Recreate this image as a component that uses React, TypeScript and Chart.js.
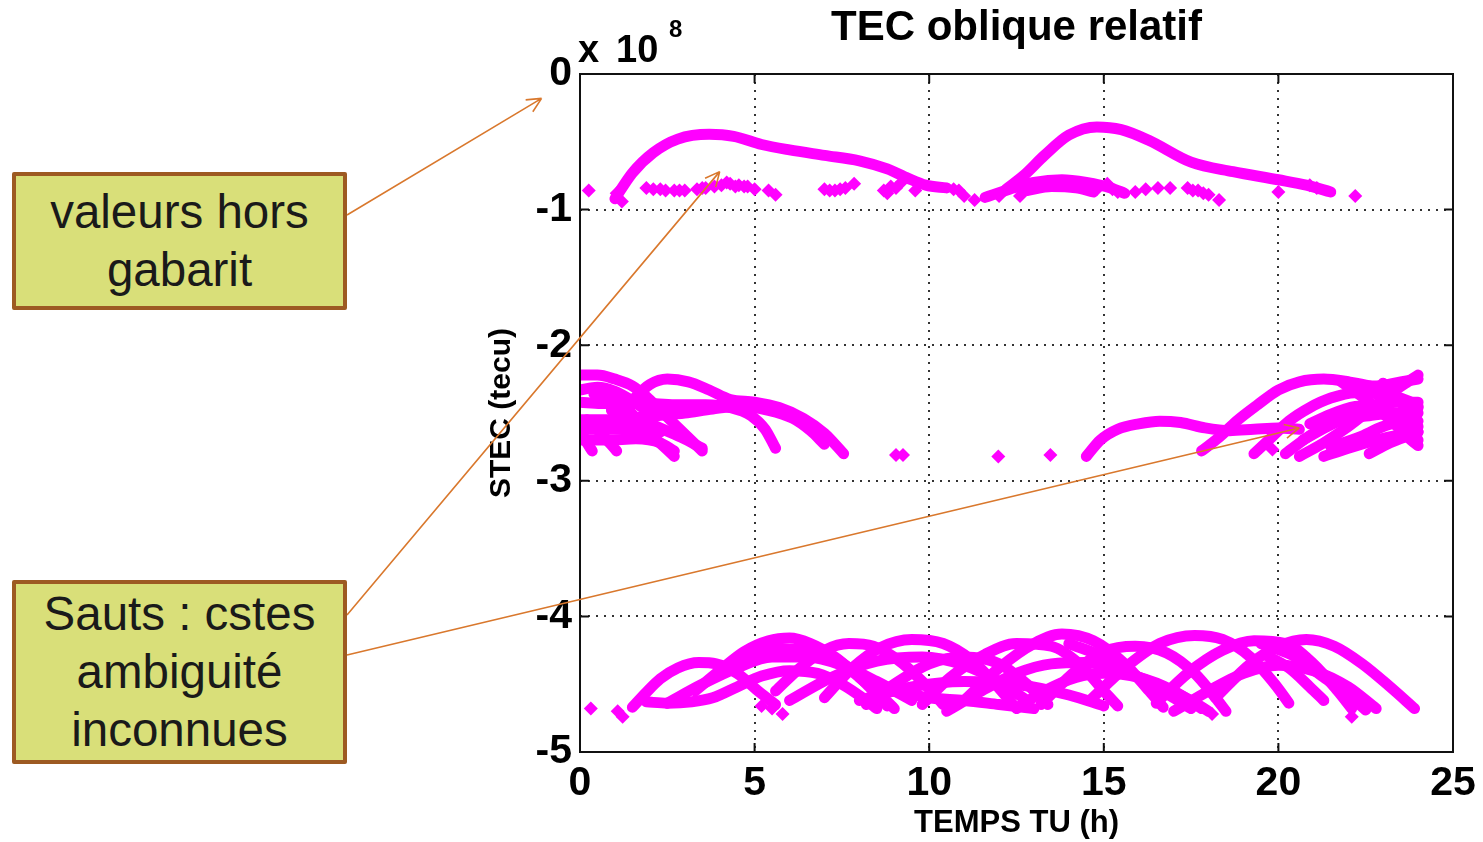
import { useEffect, useRef } from "react";
import { Chart, registerables } from "chart.js";

Chart.register(...registerables);

type P = [number, number];

// Axis ticks (STEC in units of 1e8 tecu, time in hours)
const X_TICKS = [0, 5, 10, 15, 20, 25];
const Y_TICKS = [0, -1, -2, -3, -4, -5];

const TITLE = "TEC oblique relatif";
const X_TITLE = "TEMPS TU (h)";
const Y_TITLE = "STEC (tecu)";
const BOX1 = ["valeurs hors", "gabarit"];
const BOX2 = ["Sauts : cstes", "ambiguité", "inconnues"];

// ---- top band (values "hors gabarit") ----
const TOP_ARC_1: P[] = [[1.0, -0.92], [1.5, -0.73], [2.1, -0.58], [2.8, -0.48], [3.7, -0.445], [4.4, -0.46], [5.2, -0.52], [6.0, -0.56], [7.0, -0.6], [8.0, -0.64], [8.8, -0.7], [9.4, -0.77], [9.9, -0.82], [10.5, -0.84]];
const TOP_ARC_2: P[] = [[12.2, -0.85], [12.7, -0.75], [13.3, -0.6], [14.0, -0.45], [14.8, -0.39], [15.5, -0.41], [16.3, -0.49], [17.5, -0.65], [18.7, -0.72], [20.0, -0.78], [20.8, -0.82], [21.5, -0.87]];
const TOP_ARC_3: P[] = [[11.6, -0.91], [12.3, -0.85], [13.0, -0.8], [13.8, -0.78], [14.5, -0.8], [15.2, -0.84], [15.6, -0.88]];
const TOP_ARC_4: P[] = [[12.8, -0.86], [13.5, -0.83], [14.2, -0.84], [14.7, -0.87]];
const TOP_DOTS: P[] = [[0.25, -0.86], [1.05, -0.88], [1.2, -0.94], [1.9, -0.84], [2.1, -0.85], [2.3, -0.85], [2.45, -0.86], [2.7, -0.86], [2.85, -0.86], [3.0, -0.86], [3.35, -0.85], [3.5, -0.84], [3.6, -0.84], [3.85, -0.83], [4.05, -0.82], [4.2, -0.8], [4.3, -0.81], [4.45, -0.83], [4.55, -0.82], [4.7, -0.83], [4.8, -0.83], [5.0, -0.85], [5.4, -0.86], [5.6, -0.89], [7.0, -0.85], [7.15, -0.86], [7.3, -0.86], [7.45, -0.85], [7.6, -0.84], [7.85, -0.81], [8.7, -0.86], [8.8, -0.88], [8.9, -0.83], [9.05, -0.84], [9.2, -0.8], [9.6, -0.86], [10.7, -0.85], [10.85, -0.86], [11.0, -0.9], [11.3, -0.93], [12.0, -0.9], [12.6, -0.9], [14.8, -0.85], [15.1, -0.81], [15.25, -0.85], [15.4, -0.87], [15.9, -0.87], [16.2, -0.85], [16.55, -0.84], [16.9, -0.84], [17.4, -0.84], [17.55, -0.86], [17.7, -0.86], [17.85, -0.88], [18.0, -0.89], [18.3, -0.93], [20.0, -0.87], [20.9, -0.82], [21.1, -0.84], [22.2, -0.9]];

// ---- middle band, left ----
const MID_L_1: P[] = [[0, -2.22], [0.5, -2.22], [1.0, -2.25], [1.5, -2.3], [1.9, -2.38], [2.3, -2.48], [2.7, -2.58], [3.1, -2.68], [3.5, -2.78]];
const MID_L_2: P[] = [[1.2, -2.5], [1.6, -2.38], [2.0, -2.29], [2.5, -2.25], [3.1, -2.27], [3.7, -2.33], [4.3, -2.4], [5.0, -2.42], [5.7, -2.46], [6.4, -2.54], [7.0, -2.65], [7.55, -2.8]];
const MID_L_3: P[] = [[0, -2.42], [0.6, -2.43], [1.3, -2.43], [2.0, -2.43], [2.8, -2.44], [3.6, -2.44], [4.3, -2.46], [4.9, -2.52], [5.3, -2.62], [5.6, -2.76]];
const MID_L_4: P[] = [[0, -2.55], [0.7, -2.55], [1.4, -2.54], [2.2, -2.52], [3.0, -2.5], [3.8, -2.47], [4.6, -2.45], [5.4, -2.48], [6.1, -2.54], [6.6, -2.63], [7.0, -2.73]];
const MID_L_5: P[] = [[0, -2.62], [0.2, -2.72], [0.35, -2.78]];
const MID_L_6: P[] = [[0.2, -2.55], [0.6, -2.65], [1.05, -2.78]];
const MID_L_7: P[] = [[0.9, -2.48], [1.5, -2.58], [2.1, -2.68], [2.7, -2.82]];
const MID_L_8: P[] = [[1.5, -2.52], [2.2, -2.6], [2.9, -2.68], [3.5, -2.76]];
const MID_L_9: P[] = [[0, -2.7], [0.8, -2.7], [1.6, -2.69], [2.3, -2.72], [2.7, -2.78]];
const MID_L_10: P[] = [[0, -2.33], [0.5, -2.31], [1.0, -2.34], [1.5, -2.41], [2.0, -2.5]];
const MID_L_11: P[] = [[0.4, -2.36], [0.9, -2.4], [1.3, -2.46], [1.7, -2.56], [2.0, -2.62]];
const MID_L_12: P[] = [[0, -2.62], [0.6, -2.62], [1.2, -2.62], [1.8, -2.62], [2.3, -2.64]];

// ---- middle band, right ----
const MID_R_1: P[] = [[14.5, -2.82], [14.9, -2.7], [15.4, -2.62], [16.0, -2.58], [16.6, -2.56], [17.2, -2.57], [17.9, -2.61], [18.6, -2.63], [19.3, -2.62], [20.0, -2.61], [20.6, -2.62]];
const MID_R_2: P[] = [[17.8, -2.78], [18.3, -2.68], [18.8, -2.56], [19.4, -2.44], [20.0, -2.33], [20.6, -2.27], [21.3, -2.25], [22.0, -2.27], [22.6, -2.3], [23.2, -2.36], [23.8, -2.42], [24.0, -2.45]];
const MID_R_3: P[] = [[19.3, -2.8], [19.8, -2.68], [20.3, -2.56], [20.9, -2.46], [21.5, -2.39], [22.2, -2.35], [22.9, -2.36], [23.5, -2.4], [24.0, -2.46]];
const MID_R_4: P[] = [[20.6, -2.82], [21.3, -2.72], [22.0, -2.6], [22.7, -2.46], [23.3, -2.34], [23.7, -2.27], [24.0, -2.22]];
const MID_R_5: P[] = [[20.7, -2.7], [21.4, -2.6], [22.1, -2.52], [22.8, -2.45], [23.4, -2.42], [24.0, -2.42]];
const MID_R_6: P[] = [[21.3, -2.82], [22.0, -2.76], [22.8, -2.7], [23.5, -2.66], [24.0, -2.64]];
const MID_R_7: P[] = [[21.8, -2.27], [22.5, -2.4], [23.2, -2.55], [23.8, -2.7], [24.0, -2.74]];
const MID_R_8: P[] = [[20.9, -2.58], [21.6, -2.5], [22.3, -2.45], [23.0, -2.48], [23.6, -2.55], [24.0, -2.6]];
const MID_R_9: P[] = [[22.6, -2.8], [23.2, -2.72], [23.8, -2.66], [24.0, -2.64]];
const MID_R_10: P[] = [[20.2, -2.8], [21.0, -2.65], [21.8, -2.55], [22.6, -2.52], [23.4, -2.5], [24.0, -2.5]];
const MID_R_11: P[] = [[22.0, -2.3], [22.8, -2.3], [23.5, -2.27], [24.0, -2.25]];
const MID_R_12: P[] = [[23.0, -2.28], [23.5, -2.42], [24.0, -2.56]];
const MID_R_13: P[] = [[21.5, -2.75], [22.3, -2.68], [23.0, -2.6], [23.6, -2.56], [24.0, -2.7]];
const MID_DOTS: P[] = [[9.05, -2.81], [9.25, -2.81], [11.98, -2.82], [13.47, -2.81], [19.83, -2.77]];

// ---- bottom band ----
const BOT_1: P[] = [[1.5, -4.67], [1.9, -4.56], [2.3, -4.46], [2.8, -4.38], [3.4, -4.34], [3.9, -4.35], [4.5, -4.42], [5.1, -4.55], [5.6, -4.65]];
const BOT_2: P[] = [[3.3, -4.55], [4.0, -4.4], [4.7, -4.26], [5.4, -4.18], [6.0, -4.16], [6.6, -4.2], [7.3, -4.3], [8.0, -4.45], [8.6, -4.58], [9.0, -4.68]];
const BOT_3: P[] = [[1.9, -4.63], [2.5, -4.64], [3.2, -4.63], [3.8, -4.6], [4.5, -4.52], [5.2, -4.44], [6.0, -4.4], [6.8, -4.42], [7.5, -4.5], [8.2, -4.62], [8.5, -4.68]];
const BOT_4: P[] = [[4.6, -4.35], [5.2, -4.27], [5.8, -4.24], [6.5, -4.25], [7.2, -4.3], [7.8, -4.4], [8.4, -4.55], [8.8, -4.66]];
const BOT_5: P[] = [[5.6, -4.55], [6.3, -4.38], [7.0, -4.25], [7.7, -4.2], [8.4, -4.22], [9.1, -4.32], [9.8, -4.48], [10.4, -4.65]];
const BOT_6: P[] = [[7.0, -4.6], [7.8, -4.38], [8.6, -4.23], [9.5, -4.17], [10.4, -4.2], [11.2, -4.32], [11.9, -4.5], [12.4, -4.65]];
const BOT_7: P[] = [[8.2, -4.65], [9.0, -4.5], [10.0, -4.35], [11.0, -4.3], [12.0, -4.35], [12.8, -4.5], [13.4, -4.65]];
const BOT_8: P[] = [[9.8, -4.65], [10.6, -4.45], [11.6, -4.28], [12.5, -4.2], [13.5, -4.22], [14.3, -4.35], [15.0, -4.55], [15.4, -4.66]];
const BOT_9: P[] = [[11.0, -4.62], [12.0, -4.38], [13.0, -4.2], [13.8, -4.13], [14.7, -4.18], [15.6, -4.35], [16.3, -4.55], [16.7, -4.67]];
const BOT_10: P[] = [[13.2, -4.65], [14.2, -4.4], [15.0, -4.26], [15.9, -4.22], [16.8, -4.27], [17.6, -4.42], [18.2, -4.6], [18.5, -4.7]];
const BOT_11: P[] = [[14.6, -4.62], [15.6, -4.38], [16.6, -4.2], [17.6, -4.14], [18.4, -4.17], [19.2, -4.3], [19.9, -4.5], [20.3, -4.64]];
const BOT_12: P[] = [[16.5, -4.64], [17.4, -4.42], [18.4, -4.25], [19.3, -4.18], [20.2, -4.2], [21.0, -4.35], [21.7, -4.55], [22.1, -4.68]];
const BOT_13: P[] = [[18.2, -4.6], [19.2, -4.35], [20.0, -4.22], [20.8, -4.17], [21.6, -4.22], [22.4, -4.35], [23.2, -4.52], [23.9, -4.68]];
const BOT_14: P[] = [[19.5, -4.2], [20.5, -4.3], [21.3, -4.45], [22.0, -4.58], [22.5, -4.69]];
const BOT_15: P[] = [[8.0, -4.62], [9.5, -4.52], [11.0, -4.48], [12.5, -4.5], [14.0, -4.58], [15.0, -4.66]];
const BOT_16: P[] = [[19.6, -4.28], [20.3, -4.38], [20.9, -4.52], [21.3, -4.62]];
const BOT_17: P[] = [[2.5, -4.64], [3.5, -4.5], [4.5, -4.38], [5.5, -4.3], [6.5, -4.3], [7.5, -4.36], [8.5, -4.48], [9.5, -4.62]];
const BOT_18: P[] = [[6.0, -4.62], [7.2, -4.45], [8.5, -4.33], [9.8, -4.3], [11.0, -4.36], [12.0, -4.48], [12.8, -4.62]];
const BOT_19: P[] = [[10.5, -4.7], [11.5, -4.55], [12.5, -4.42], [13.5, -4.35], [14.5, -4.34], [15.5, -4.4], [16.5, -4.5], [17.5, -4.62], [18.0, -4.7]];
const BOT_20: P[] = [[12.5, -4.68], [13.3, -4.55], [14.2, -4.45], [15.0, -4.42], [16.0, -4.45], [17.0, -4.55], [17.8, -4.68]];
const BOT_21: P[] = [[17.0, -4.7], [18.0, -4.55], [19.0, -4.42], [20.0, -4.36], [21.0, -4.4], [22.0, -4.52], [22.8, -4.68]];
const BOT_22: P[] = [[14.0, -4.2], [15.0, -4.3], [16.0, -4.45], [17.0, -4.6], [17.5, -4.68]];
const BOT_23: P[] = [[9.0, -4.55], [10.0, -4.6], [11.0, -4.62], [12.0, -4.65], [13.0, -4.68]];
const BOT_DOTS: P[] = [[0.31, -4.68], [1.08, -4.7], [1.22, -4.74], [5.2, -4.66], [5.5, -4.68], [5.8, -4.72], [18.1, -4.72], [22.1, -4.74]];

const ARCS: P[][] = [
  TOP_ARC_1, TOP_ARC_2, TOP_ARC_3, TOP_ARC_4,
  MID_L_1, MID_L_2, MID_L_3, MID_L_4, MID_L_5, MID_L_6, MID_L_7, MID_L_8, MID_L_9, MID_L_10, MID_L_11, MID_L_12,
  MID_R_1, MID_R_2, MID_R_3, MID_R_4, MID_R_5, MID_R_6, MID_R_7, MID_R_8, MID_R_9, MID_R_10, MID_R_11, MID_R_12, MID_R_13,
  BOT_1, BOT_2, BOT_3, BOT_4, BOT_5, BOT_6, BOT_7, BOT_8, BOT_9, BOT_10, BOT_11, BOT_12, BOT_13, BOT_14, BOT_15, BOT_16,
  BOT_17, BOT_18, BOT_19, BOT_20, BOT_21, BOT_22, BOT_23,
];
const DOTS: P[][] = [TOP_DOTS, MID_DOTS, BOT_DOTS];

// arrow targets in data units (the first one points just outside the axis)
const ARROW_TIPS: P[] = [[-1.1, -0.18], [4.0, -0.72], [20.6, -2.61]];

const MAGENTA = "#ff00ff";
const FONT = '"Liberation Sans", Arial, sans-serif';
const ARROW = "#d9782d";

const toXY = (a: P[]) => a.map(([x, y]) => ({ x, y }));

const overlay = {
  id: "overlay",
  afterDraw(chart: any) {
    const { ctx, chartArea: a, scales } = chart;
    const xs = scales.x;
    const ys = scales.y;
    ctx.save();
    // frame
    ctx.strokeStyle = "#111";
    ctx.lineWidth = 2;
    ctx.strokeRect(a.left, a.top, a.right - a.left, a.bottom - a.top);
    ctx.beginPath();
    X_TICKS.forEach((v) => {
      const px = xs.getPixelForValue(v);
      ctx.moveTo(px, a.bottom);
      ctx.lineTo(px, a.bottom - 9);
      ctx.moveTo(px, a.top);
      ctx.lineTo(px, a.top + 9);
    });
    Y_TICKS.forEach((v) => {
      const py = ys.getPixelForValue(v);
      ctx.moveTo(a.left, py);
      ctx.lineTo(a.left + 9, py);
      ctx.moveTo(a.right, py);
      ctx.lineTo(a.right - 9, py);
    });
    ctx.stroke();
    // exponent
    ctx.fillStyle = "#000";
    ctx.textAlign = "left";
    ctx.textBaseline = "alphabetic";
    ctx.font = `bold 38px ${FONT}`;
    ctx.fillText("x", a.left - 2, a.top - 12);
    ctx.fillText("10", a.left + 36, a.top - 12);
    ctx.font = `bold 24px ${FONT}`;
    ctx.fillText("8", a.left + 89, a.top - 37);
    // arrows
    const starts: P[] = [[347, 215], [347, 615], [347, 655]];
    ctx.strokeStyle = ARROW;
    ctx.lineWidth = 1.6;
    starts.forEach((s, i) => {
      const tx = xs.getPixelForValue(ARROW_TIPS[i][0]);
      const ty = ys.getPixelForValue(ARROW_TIPS[i][1]);
      const ang = Math.atan2(ty - s[1], tx - s[0]);
      ctx.beginPath();
      ctx.moveTo(s[0], s[1]);
      ctx.lineTo(tx, ty);
      const L = 16;
      ctx.moveTo(tx, ty);
      ctx.lineTo(tx - L * Math.cos(ang - 0.45), ty - L * Math.sin(ang - 0.45));
      ctx.moveTo(tx, ty);
      ctx.lineTo(tx - L * Math.cos(ang + 0.45), ty - L * Math.sin(ang + 0.45));
      ctx.stroke();
    });
    ctx.restore();
  },
};

function Box({ left, top, width, height, lines }: { left: number; top: number; width: number; height: number; lines: string[] }) {
  return (
    <div
      style={{
        position: "absolute",
        left,
        top,
        width,
        height,
        boxSizing: "border-box",
        border: "4px solid #9d5a22",
        borderRadius: 2,
        background: "#d9df79",
        display: "flex",
        flexDirection: "column",
        alignItems: "center",
        justifyContent: "center",
        fontFamily: FONT,
        fontSize: 47.5,
        lineHeight: "58px",
        color: "#1a1a1a",
        textAlign: "center",
      }}
    >
      {lines.map((l) => (
        <div key={l}>{l}</div>
      ))}
    </div>
  );
}

export default function App() {
  const ref = useRef<HTMLCanvasElement | null>(null);

  useEffect(() => {
    if (!ref.current) return;
    const datasets: any[] = [];
    ARCS.forEach((arc) => {
      datasets.push({
        data: toXY(arc),
        showLine: true,
        borderColor: MAGENTA,
        backgroundColor: MAGENTA,
        borderWidth: 11,
        pointRadius: 0,
        cubicInterpolationMode: "monotone",
        borderCapStyle: "round",
        borderJoinStyle: "round",
      });
    });
    DOTS.forEach((d) => {
      datasets.push({
        data: toXY(d),
        showLine: false,
        pointStyle: "rectRot",
        pointRadius: 7,
        borderWidth: 0,
        backgroundColor: MAGENTA,
        borderColor: MAGENTA,
      });
    });

    const chart = new Chart(ref.current, {
      type: "scatter",
      data: { datasets },
      options: {
        responsive: false,
        animation: false,
        layout: { padding: { left: 480, right: 30, top: 3, bottom: 0 } },
        plugins: {
          legend: { display: false },
          tooltip: { enabled: false },
          title: {
            display: true,
            text: TITLE,
            fullSize: false,
            color: "#000",
            font: { family: FONT, size: 42, weight: "bold" },
            padding: { top: 0, bottom: 20.6 },
          },
        },
        scales: {
          x: {
            type: "linear",
            min: 0,
            max: 25,
            afterFit: (s: any) => {
              s.height = 90;
            },
            afterBuildTicks: (s: any) => {
              s.ticks = X_TICKS.map((v) => ({ value: v }));
            },
            ticks: {
              color: "#000",
              font: { family: FONT, size: 41, weight: "bold" },
              padding: 7,
              maxRotation: 0,
            },
            grid: { color: "#333", lineWidth: 2, drawTicks: false },
            border: { display: false, dash: [2, 6] },
            title: {
              display: true,
              text: X_TITLE,
              color: "#000",
              font: { family: FONT, size: 31, weight: "bold" },
              padding: { top: 0, bottom: 0 },
            },
          },
          y: {
            type: "linear",
            min: -5,
            max: 0,
            afterFit: (s: any) => {
              s.width = 100;
            },
            afterBuildTicks: (s: any) => {
              s.ticks = Y_TICKS.map((v) => ({ value: v }));
            },
            ticks: {
              color: "#000",
              font: { family: FONT, size: 41, weight: "bold" },
              padding: 8,
            },
            grid: { color: "#333", lineWidth: 2, drawTicks: false },
            border: { display: false, dash: [2, 6] },
            title: {
              display: true,
              text: Y_TITLE,
              color: "#000",
              font: { family: FONT, size: 30, weight: "bold" },
              padding: { top: 4, bottom: 0 },
            },
          },
        },
      },
      plugins: [overlay],
    });
    return () => chart.destroy();
  }, []);

  return (
    <div style={{ position: "fixed", left: 0, top: 0, width: 1483, height: 842, background: "#fff" }}>
      <canvas ref={ref} width={1483} height={842} style={{ position: "absolute", left: 0, top: 0 }} />
      <Box left={12} top={172} width={335} height={138} lines={BOX1} />
      <Box left={12} top={580} width={335} height={184} lines={BOX2} />
    </div>
  );
}
